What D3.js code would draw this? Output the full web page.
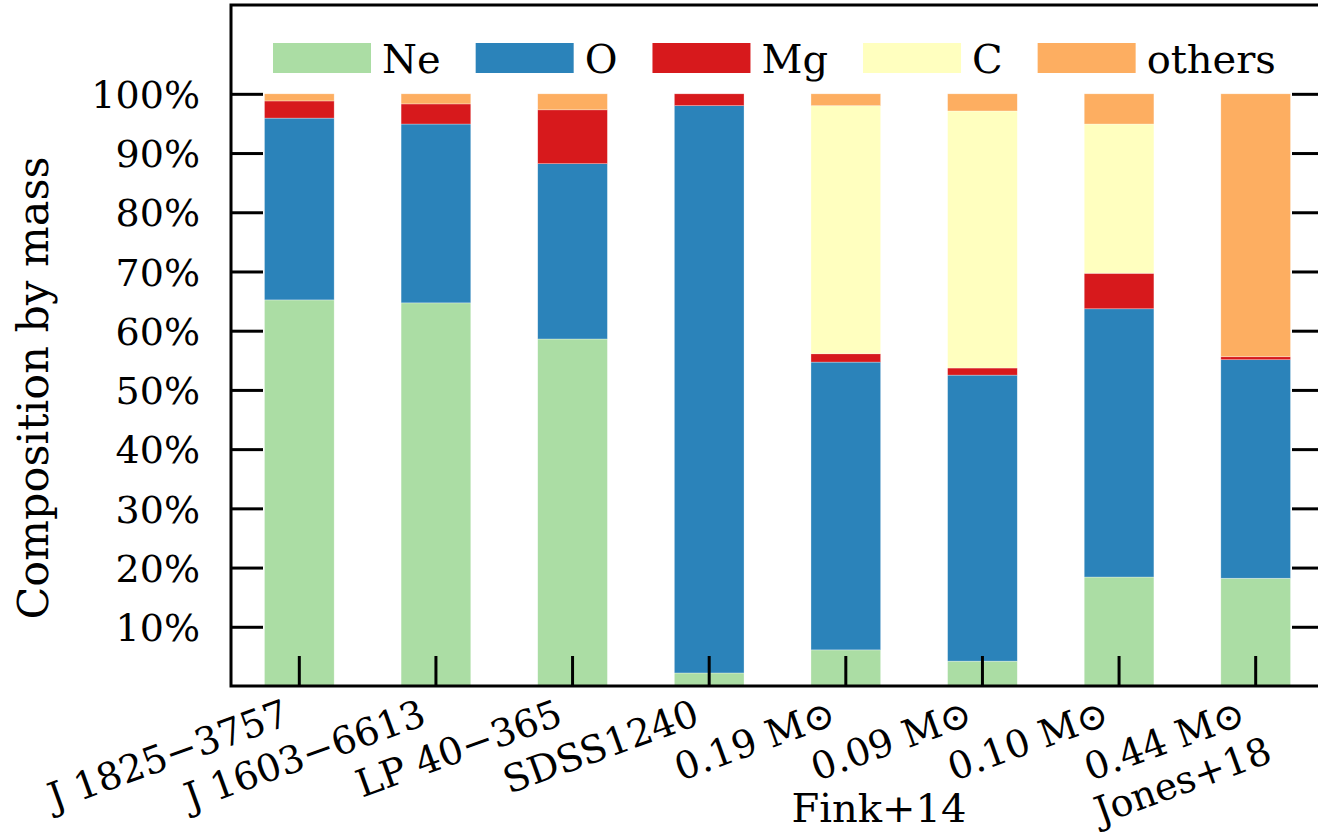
<!DOCTYPE html>
<html lang="en">
<head>
    <meta charset="UTF-8">
    <title>Composition by mass</title>
    <script src="https://d3js.org/d3.v7.min.js"></script>
    <style>
        body { margin: 0; background: #fff; }
        text { font-family: "DejaVu Serif", serif; fill: #000; }
    </style>
</head>
<body>
    <div id="chart"></div>
    <script>
        // bar labels (second line only for the last one)
        const labels = ["J 1825\u22123757", "J 1603\u22126613", "LP 40\u2212365", "SDSS1240",
            "0.19 M\u2299", "0.09 M\u2299", "0.10 M\u2299", "0.44 M\u2299"];
        const labels2 = ["", "", "", "", "", "", "", "Jones+18"];

        // mass fractions in percent
        const ne = [65.2, 64.7, 58.6, 2.2, 6.1, 4.2, 18.4, 18.2];
        const ox = [30.7, 30.2, 29.6, 95.8, 48.6, 48.3, 45.3, 36.9];
        const mg = [2.9, 3.4, 9.1, 2.0, 1.4, 1.2, 6.0, 0.5];
        const carbon = [0, 0, 0, 0, 41.9, 43.4, 25.2, 0];
        const others = [1.2, 1.7, 2.7, 0, 2.0, 2.9, 5.1, 44.4];

        const species = ["Ne", "O", "Mg", "C", "others"];
        const colors = ["#abdda4", "#2b83ba", "#d7191c", "#ffffbf", "#fdae61"];
        const yTicks = [10, 20, 30, 40, 50, 60, 70, 80, 90, 100];

        const W = 1318, H = 834;
        const m = { left: 231, right: 1324, top: 5, bottom: 686 };

        const svg = d3.select("#chart").append("svg")
            .attr("width", W).attr("height", H);

        const x = d3.scaleBand()
            .domain(labels)
            .range([m.left, m.right])
            .paddingInner(0.49)
            .paddingOuter(0.245);

        const y = d3.scaleLinear()
            .domain([0, 115])
            .range([m.bottom, m.top]);

        const table = labels.map((l, i) => ({
            label: l, Ne: ne[i], O: ox[i], Mg: mg[i], C: carbon[i], others: others[i]
        }));
        const stacked = d3.stack().keys(species)(table);

        svg.append("g").selectAll("g")
            .data(stacked)
            .join("g")
            .attr("fill", (d, i) => colors[i])
            .selectAll("rect")
            .data(d => d.filter(s => s[1] - s[0] > 0))
            .join("rect")
            .attr("x", d => x(d.data.label))
            .attr("width", x.bandwidth())
            .attr("y", d => y(d[1]))
            .attr("height", d => y(d[0]) - y(d[1]))
            .attr("stroke", "#fff")
            .attr("stroke-opacity", 0.5)
            .attr("stroke-width", 0.6);

        // frame
        svg.append("rect")
            .attr("x", m.left).attr("y", m.top)
            .attr("width", m.right - m.left).attr("height", m.bottom - m.top)
            .attr("fill", "none").attr("stroke", "#000").attr("stroke-width", 3);

        // y ticks, inward on both sides
        const yAxisL = d3.axisLeft(y).tickValues(yTicks).tickSize(-32).tickPadding(31)
            .tickFormat(d => d + "%");
        const gl = svg.append("g").attr("transform", `translate(${m.left},0)`).call(yAxisL);
        gl.select(".domain").remove();
        gl.selectAll("line").attr("stroke", "#000").attr("stroke-width", 3);
        gl.selectAll("text").attr("font-size", 38).attr("dy", "0.36em")
            .attr("font-family", "DejaVu Serif");

        const yAxisR = d3.axisRight(y).tickValues(yTicks).tickSize(-32).tickFormat("");
        const gr = svg.append("g").attr("transform", `translate(${m.right},0)`).call(yAxisR);
        gr.select(".domain").remove();
        gr.selectAll("line").attr("stroke", "#000").attr("stroke-width", 3);

        // x ticks, inward
        const xAxis = d3.axisBottom(x).tickSize(-30).tickFormat("");
        const gx = svg.append("g").attr("transform", `translate(0,${m.bottom})`).call(xAxis);
        gx.select(".domain").remove();
        gx.selectAll("line").attr("stroke", "#000").attr("stroke-width", 3);

        // rotated x labels
        const xl = svg.append("g").selectAll("text")
            .data(labels)
            .join("text")
            .attr("transform", d => `translate(${x(d) + x.bandwidth() / 2 - 8},${m.bottom + 38}) rotate(-20)`)
            .attr("text-anchor", "end")
            .attr("font-size", 38);
        xl.append("tspan").attr("x", 0).attr("y", 0).text(d => d);
        xl.filter((d, i) => labels2[i])
            .append("tspan").attr("x", 12).attr("dy", 44)
            .text(d => labels2[labels.indexOf(d)]);

        svg.append("text")
            .attr("x", 879).attr("y", 822)
            .attr("text-anchor", "middle")
            .attr("font-size", 40)
            .text("Fink+14");

        svg.append("text")
            .attr("transform", "translate(48,388) rotate(-90)")
            .attr("text-anchor", "middle")
            .attr("font-size", 43)
            .text("Composition by mass");

        // legend in one row
        const leg = svg.append("g");
        let lx = 273;
        species.forEach((s, i) => {
            leg.append("rect")
                .attr("x", lx).attr("y", 43)
                .attr("width", 98).attr("height", 30)
                .attr("fill", colors[i]);
            const t = leg.append("text")
                .attr("x", lx + 109).attr("y", 73)
                .attr("font-size", 40)
                .text(s);
            lx += 109 + t.node().getComputedTextLength() + 35;
        });
    </script>
</body>
</html>
